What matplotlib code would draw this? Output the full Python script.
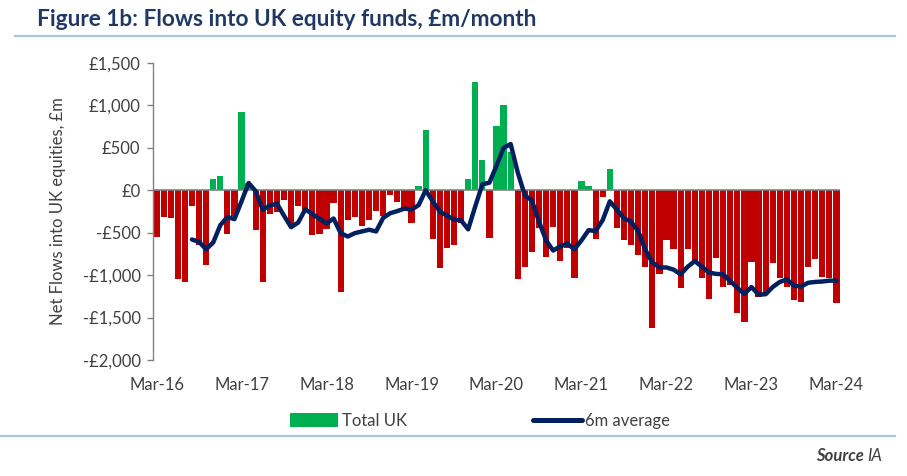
import numpy as np
import matplotlib.pyplot as plt
from matplotlib.patches import Patch
from matplotlib.lines import Line2D

# DATA #
# monthly net flows into UK equity funds, Mar-16 .. Mar-24 (£m)
total_uk = [
    -550, -320, -330, -1040, -1080, -190, -650, -880, 130, 165,      # Mar-16 .. Dec-16
    -510, -300, 925, 80, -470, -1080, -275, -255, -110, -430,        # Jan-17 .. Oct-17
    -185, -250, -530, -510, -460, -150, -1200, -345, -320, -425,     # Nov-17 .. Aug-18
    -345, -245, -300, -60, -135, -220, -390, 55, 705, -575,          # Sep-18 .. Jun-19
    -910, -675, -650, -380, 130, 1275, 355, -560, 755, 1005,         # Jul-19 .. Apr-20
    450, -1050, -900, -730, -450, -785, -430, -830, -680, -1030,     # May-20 .. Feb-21
    105, 47, -570, -78, 255, -443, -588, -647, -757, -902,           # Mar-21 .. Dec-21
    -1627, -988, -580, -694, -1149, -694, -840, -1031, -1286, -800,  # Jan-22 .. Oct-22
    -1137, -1117, -1450, -1548, -843, -1254, -1223, -862, -1039, -1145,  # Nov-22 .. Aug-23
    -1294, -1313, -902, -815, -1019, -1039, -1333,                   # Sep-23 .. Mar-24
]

# 6 month average, starts Aug-16
avg_6m = [
    -580, -608, -695, -615, -412, -314, -340, -130, 86, -10,
    -230, -180, -157, -300, -435, -380, -225, -280, -335, -390,
    -333, -505, -545, -505, -485, -465, -485, -325, -270, -245,
    -216, -227, -176, 0, -130, -250, -300, -345, -355, -460,
    -190, 70, 90, 290, 500, 545, 210, -60, -120, -370,
    -590, -710, -660, -630, -695, -590, -470, -480, -350, -130,
    -230, -330, -370, -480, -700, -850, -910, -910, -935, -990,
    -900, -835, -900, -970, -985, -990, -1070, -1150, -1220, -1140,
    -1230, -1225, -1140, -1080, -1050, -1125, -1135, -1090, -1080, -1075,
    -1065, -1065,
]
avg_start = 5

x_labels = ['Mar-16', 'Mar-17', 'Mar-18', 'Mar-19', 'Mar-20',
            'Mar-21', 'Mar-22', 'Mar-23', 'Mar-24']
y_ticks = [1500, 1000, 500, 0, -500, -1000, -1500, -2000]

# STYLE #
green = '#00B050'
red = '#C00000'
navy = '#002060'
rule = '#A9C6DE'
txt = '#404040'
fs = 12
plt.rcParams['font.family'] = ['Lato', 'DejaVu Sans']


def money(v):
    # format as £1,500 / -£500
    s = '£{:,.0f}'.format(abs(v))
    return '-' + s if v < 0 else s


fig = plt.figure(figsize=(9.07, 4.76), dpi=100)
ax = fig.add_axes([153 / 907, 1 - 360 / 476, (840 - 153) / 907, (360 - 63) / 476])

x = np.arange(len(total_uk))
vals = np.array(total_uk)
colors = [green if v >= 0 else red for v in vals]
ax.bar(x, vals, width=0.88, color=colors, linewidth=0, zorder=2)

xa = np.arange(avg_start, avg_start + len(avg_6m))
ax.plot(xa, avg_6m, color=navy, lw=3.2, solid_joinstyle='round',
        solid_capstyle='round', zorder=4)

ax.axhline(0, color='#808080', lw=1.2, zorder=3)

ax.set_xlim(-0.5, len(total_uk) - 0.5)
ax.set_ylim(-2000, 1500)
ax.set_yticks(y_ticks)
ax.set_yticklabels([money(v) for v in y_ticks])
ax.set_xticks(np.arange(0, len(total_uk), 12))
ax.set_xticklabels(x_labels)

for s in ['top', 'right', 'bottom']:
    ax.spines[s].set_visible(False)
ax.spines['left'].set_color('#808080')
ax.spines['left'].set_linewidth(1.0)
ax.tick_params(axis='y', colors='#808080', labelcolor=txt, labelsize=fs,
               length=4, width=1.0, pad=5)
ax.tick_params(axis='x', length=0, labelcolor=txt, labelsize=fs, pad=12)
ax.set_ylabel('Net Flows into UK equities, £m', color=txt, fontsize=fs,
              labelpad=12)

# title and rules
fig.text(37 / 907, 1 - 20 / 476, 'Figure 1b: Flows into UK equity funds, £m/month',
         fontsize=16.3, fontweight='bold', color='#1F3864', va='center', ha='left')
fig.add_artist(Line2D([15 / 907, 895 / 907], [1 - 36 / 476] * 2, color=rule, lw=1.6))
fig.add_artist(Line2D([0, 895 / 907], [1 - 436 / 476] * 2, color=rule, lw=1.6))

# legend
handles = [Patch(facecolor=green, edgecolor='none'),
           Line2D([], [], color=navy, lw=3.6, solid_capstyle='round')]
fig.legend(handles, ['Total UK', '6m average'], loc='center',
           bbox_to_anchor=(480 / 907, 1 - 421 / 476), ncol=2, frameon=False,
           fontsize=fs, handlelength=2.9, handleheight=0.9, handletextpad=0.2,
           columnspacing=7.6, labelcolor=txt)

# source
fig.text(864 / 907, 1 - 456 / 476, 'Source', fontsize=fs, fontweight='bold',
         style='italic', color=txt, ha='right', va='center')
fig.text(867 / 907, 1 - 456 / 476, 'IA', fontsize=fs, style='italic',
         color=txt, ha='left', va='center')

fig.savefig('out.png', dpi=100)
